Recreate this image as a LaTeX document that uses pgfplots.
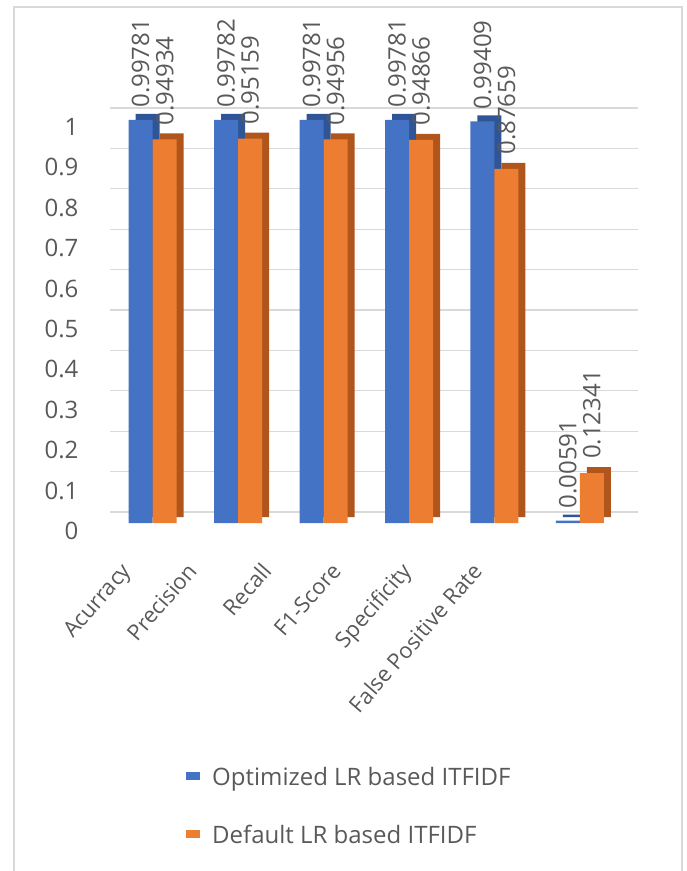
\documentclass[border=0pt]{standalone}
\usepackage{graphicx}
\usepackage{pgfplots}
\pgfplotsset{compat=1.18}
\usepackage{pgfplotstable}
\usepackage{fontspec}
\setmainfont{Open Sans}
\definecolor{bluef}{HTML}{4472C4}
\definecolor{blued}{HTML}{2F5597}
\definecolor{orangef}{HTML}{ED7D31}
\definecolor{oranged}{HTML}{B0561C}
\definecolor{txt}{HTML}{595959}
\definecolor{gridc}{HTML}{D9D9D9}

\pgfplotstableread{
x y lab
0 0.99781 0.99781
1 0.99782 0.99782
2 0.99781 0.99781
3 0.99781 0.99781
4 0.99409 0.99409
5 0.00591 0.00591
}\optimized

\pgfplotstableread{
x y lab
0 0.94934 0.94934
1 0.95159 0.95159
2 0.94956 0.94956
3 0.94866 0.94866
4 0.87659 0.87659
5 0.12341 0.12341
}\default

\newcommand{\fs}{\fontsize{24pt}{29pt}\selectfont}
\newcommand{\fx}{\fontsize{22pt}{27pt}\selectfont}

\begin{document}
\begin{tikzpicture}
\draw[gridc, line width=2pt] (14pt,-871pt) -- (14pt,-7pt) -- (682pt,-7pt) -- (682pt,-871pt);
\begin{axis}[
  at={(110pt,-523pt)}, anchor=south west,
  scale only axis,
  width=528pt, height=404pt,
  xmin=-0.5, xmax=5.68,
  ymin=0, ymax=1,
  axis line style={draw=none},
  clip=false,
  ymajorgrids,
  major grid style={draw=gridc, line width=1.3pt, yshift=11pt},
  ytick={0,0.1,...,1.0},
  yticklabel style={font=\fs, text=txt, anchor=east, xshift=-28pt, yshift=-8pt,
     /pgf/number format/fixed, /pgf/number format/precision=1},
  xtick={-0.228,0.544,1.409,2.228,3.047,3.877},
  xticklabels={Acurracy,Precision,Recall,F1-Score,Specificity,False Positive Rate},
  xticklabel style={font=\fx, text=txt, inner sep=0pt, xshift=-13pt, yshift=-38pt, rotate=49, anchor=north east},
  /pgf/number format/assume math mode=true,
  major tick length=0pt,
  legend style={draw=none, fill=none, font=\fs, text=txt,
    at={(axis description cs:0.144,-0.60)}, anchor=north west,
    row sep=34pt, inner sep=0pt,
    /tikz/every odd column/.style={column sep=10pt}},
  legend cell align=left,
  point meta=explicit symbolic,
]
\addplot[ybar, bar width=24pt, bar shift=-12pt, fill=blued, draw=none, xshift=7pt, yshift=6pt, forget plot] table[x=x,y=y] {\optimized};
\addplot[ybar, bar width=24pt, bar shift=-12pt, fill=bluef, draw=none,
  nodes near coords={\rotatebox{90}{\pgfplotspointmeta}},
  nodes near coords style={font=\fs, text=txt, anchor=south, inner sep=0pt, xshift=-12pt, yshift=12pt},
  legend image code/.code={\fill[bluef] (0pt,-0.3em) rectangle (14pt,0.55em);}] table[x=x,y=y,meta=lab] {\optimized};
\addplot[ybar, bar width=24pt, bar shift=12pt, fill=oranged, draw=none, xshift=7pt, yshift=6pt, forget plot] table[x=x,y=y] {\default};
\addplot[ybar, bar width=24pt, bar shift=12pt, fill=orangef, draw=none,
  nodes near coords={\rotatebox{90}{\pgfplotspointmeta}},
  nodes near coords style={font=\fs, text=txt, anchor=south, inner sep=0pt, xshift=12pt, yshift=14pt},
  legend image code/.code={\fill[orangef] (0pt,-0.3em) rectangle (14pt,0.55em);}] table[x=x,y=y,meta=lab] {\default};
\legend{Optimized LR based ITFIDF, Default LR based ITFIDF}
\end{axis}
\pgfresetboundingbox
\path[use as bounding box] (0,0) rectangle (687pt,-871pt);
\end{tikzpicture}
\end{document}
